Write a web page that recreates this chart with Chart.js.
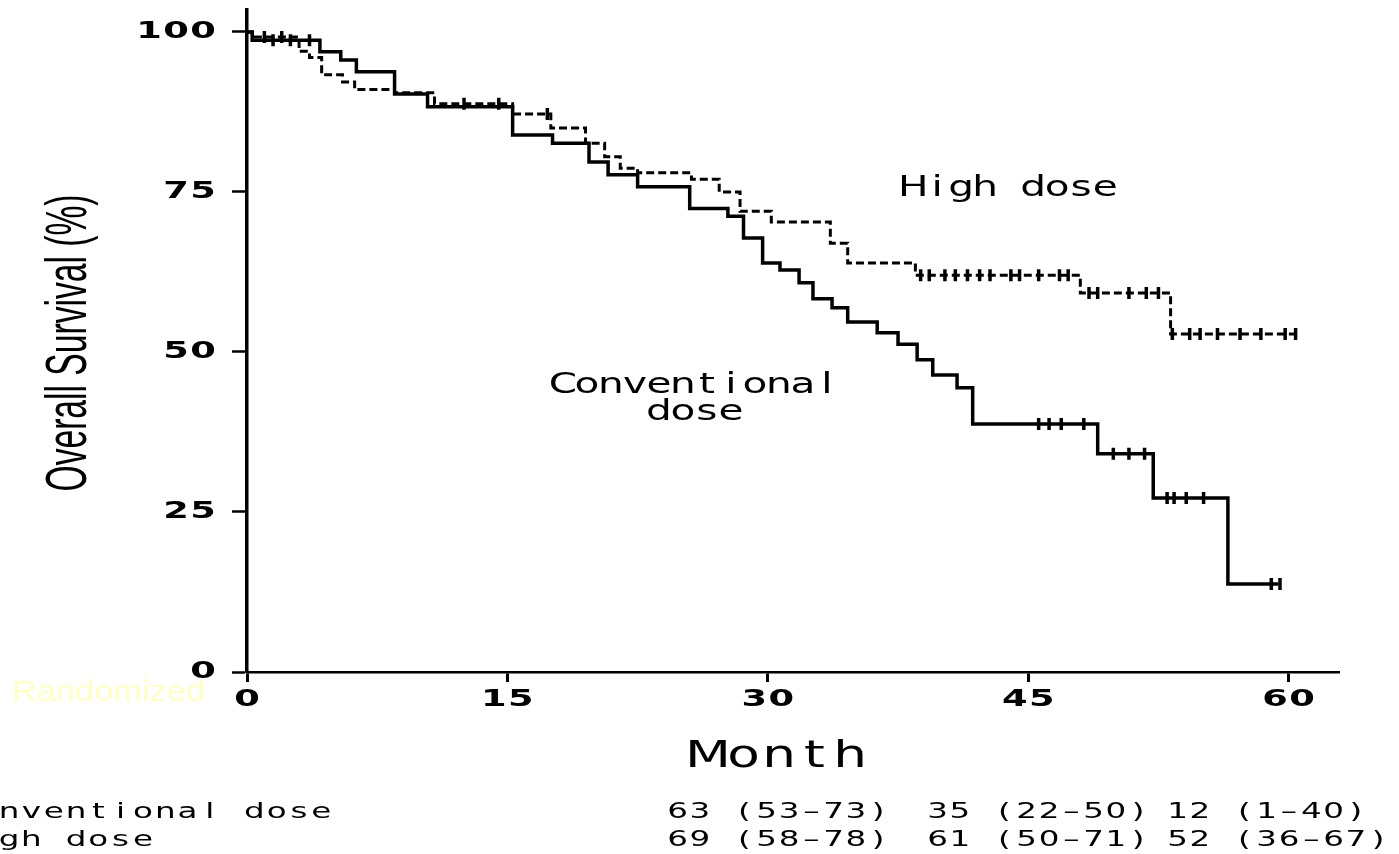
<!DOCTYPE html>
<html>
<head>
<meta charset="utf-8">
<script src="https://cdn.jsdelivr.net/npm/chart.js@4.4.1/dist/chart.umd.min.js"></script>
<style>
  html, body { margin: 0; padding: 0; background: #fff; }
  canvas { display: block; }
</style>
</head>
<body>
<canvas id="km" width="1399" height="854"></canvas>
<script>
// survival curves (month, overall survival %)
const convTime = [0, 0.3, 4.2, 5.4, 6.3, 8.5, 10.4, 15.3, 17.6, 19.7, 20.8, 22.5, 25.5, 27.7, 28.6, 29.7, 30.7, 31.8, 32.6, 33.7, 34.6, 36.3, 37.5, 38.6, 39.5, 40.9, 41.8, 49.0, 52.2, 56.5, 59.4];
const convSurv = [100, 98.7, 96.9, 95.6, 93.8, 90.3, 88.3, 83.9, 82.6, 79.7, 77.7, 75.8, 72.4, 71.2, 67.8, 63.9, 62.8, 60.8, 58.3, 56.9, 54.7, 53.0, 51.2, 48.8, 46.4, 44.4, 38.75, 34.1, 27.2, 13.75, 13.75];

const highTime = [0, 0.3, 3.0, 3.6, 4.3, 5.5, 6.2, 8.5, 10.8, 15.3, 17.5, 19.5, 20.6, 21.5, 22.5, 25.6, 27.2, 28.4, 30.2, 33.6, 34.6, 38.5, 48.0, 53.2, 60.5];
const highSurv = [100, 99.2, 97.0, 96.0, 93.3, 92.2, 91.0, 90.5, 88.8, 87.2, 85.0, 82.6, 80.5, 78.7, 78.0, 77.0, 75.0, 72.0, 70.3, 67.0, 63.9, 62.0, 59.2, 52.8, 52.8];

// censored patients (tick marks)
const convCensorTime = [1.5, 2.5, 3.6, 45.6, 46.2, 46.9, 48.2, 49.9, 50.8, 51.7, 53.0, 53.4, 54.1, 55.1, 59.0, 59.5];
const convCensorSurv = [98.7, 98.7, 98.7, 38.75, 38.75, 38.75, 38.75, 34.1, 34.1, 34.1, 27.2, 27.2, 27.2, 27.2, 13.75, 13.75];
const highCensorTime = [1.0, 2.0, 12.5, 14.5, 17.3, 38.8, 39.3, 40.2, 40.8, 41.5, 42.2, 42.8, 44.0, 44.5, 45.6, 46.8, 47.3, 48.5, 49.0, 50.8, 51.8, 52.5, 53.3, 54.3, 54.9, 55.9, 57.2, 58.4, 59.8, 60.4];
const highCensorSurv = [99.2, 99.2, 88.8, 88.8, 87.2, 62, 62, 62, 62, 62, 62, 62, 62, 62, 62, 62, 62, 59.2, 59.2, 59.2, 59.2, 59.2, 52.8, 52.8, 52.8, 52.8, 52.8, 52.8, 52.8, 52.8];

const xTicks = [0, 15, 30, 45, 60];
const yTicks = [0, 25, 50, 75, 100];

const groupNames = ["Conventional dose", "High dose"];
const groupRates = [
  ["63 (53–73)", "35 (22–50)", "12 (1–40)"],
  ["69 (58–78)", "61 (50–71)", "52 (36–67)"],
];

const toPoints = (xs, ys) => xs.map((x, i) => ({ x: x, y: ys[i] }));

// draw text as evenly spaced, stretched glyphs (mimics the old plot font)
const spaced = (ctx, text, x, y, o) => {
  const n = text.length;
  const gw = o.gw || o.adv * 0.8;
  let x0;
  if (o.align === "center") x0 = x - (n - 1) * o.adv / 2;
  else if (o.align === "right") x0 = x - (n - 1) * o.adv - gw / 2;
  else x0 = x + gw / 2;
  ctx.save();
  ctx.fillStyle = o.color || "#000";
  ctx.font = (o.bold ? "bold " : "") + o.size + "px " + (o.family || "'DejaVu Sans'");
  ctx.textAlign = "center";
  ctx.textBaseline = "middle";
  for (let i = 0; i < n; i++) {
    const ch = text[i];
    if (ch === " ") continue;
    ctx.save();
    ctx.translate(x0 + i * o.adv, y);
    ctx.scale(o.sx || 1, 1);
    ctx.fillText(ch, 0, 0);
    ctx.restore();
  }
  ctx.restore();
};

const textPlugin = {
  id: "kmText",
  beforeDraw(chart) {
    const ctx = chart.ctx;
    ctx.save();
    ctx.fillStyle = "#fff";
    ctx.fillRect(0, 0, chart.width, chart.height);
    ctx.restore();
  },
  afterDraw(chart) {
    const ctx = chart.ctx;
    const xs = chart.scales.x;
    const ys = chart.scales.y;

    // tick labels
    const tickFont = { size: 23, adv: 27, gw: 20, sx: 1.6, bold: true };
    yTicks.forEach((v) => {
      spaced(ctx, String(v), 213, ys.getPixelForValue(v), Object.assign({ align: "right" }, tickFont));
    });
    xTicks.forEach((v) => {
      spaced(ctx, String(v), xs.getPixelForValue(v), 700, Object.assign({ align: "center" }, tickFont));
    });

    // curve labels
    const lab = { size: 28, adv: 24, gw: 21, sx: 1.45, align: "center" };
    spaced(ctx, "High dose", xs.getPixelForValue(43.9), ys.getPixelForValue(75.5), lab);
    spaced(ctx, "Conventional", xs.getPixelForValue(25.8), ys.getPixelForValue(44.8), lab);
    spaced(ctx, "dose", xs.getPixelForValue(25.8), ys.getPixelForValue(40.5), lab);

    // axis titles
    spaced(ctx, "Month", 779, 757, { size: 38, adv: 35.5, gw: 34, sx: 1.4, align: "center" });

    ctx.save();
    ctx.translate(70, 343);
    ctx.rotate(-Math.PI / 2);
    ctx.font = "58px 'Liberation Sans'";
    const w = ctx.measureText("Overall Survival (%)").width;
    ctx.scale(297 / w, 1);
    ctx.textAlign = "center";
    ctx.textBaseline = "middle";
    ctx.fillStyle = "#000";
    ctx.fillText("Overall Survival (%)", 0, 0);
    ctx.restore();

    // faint label
    ctx.save();
    ctx.font = "30px 'Liberation Sans'";
    const rw = ctx.measureText("Randomized").width;
    ctx.translate(12, 693);
    ctx.scale(193 / rw, 1);
    ctx.textAlign = "left";
    ctx.textBaseline = "middle";
    ctx.fillStyle = "#ffffc8";
    ctx.fillText("Randomized", 0, 0);
    ctx.restore();

    // survival rate table
    const tab = { size: 21, adv: 22.3, gw: 19, sx: 1.55, align: "left" };
    const rowY = [813, 841];
    const colX = [668, 928, 1168];
    groupNames.forEach((name, r) => {
      spaced(ctx, name, -45, rowY[r], tab);
      groupRates[r].forEach((txt, c) => {
        spaced(ctx, txt, colX[c], rowY[r], tab);
      });
    });
  },
};

new Chart(document.getElementById("km"), {
  type: "line",
  data: {
    datasets: [
      {
        label: "Conventional dose",
        data: toPoints(convTime, convSurv),
        borderColor: "#000",
        borderWidth: 3.5,
        stepped: true,
        pointRadius: 0,
        fill: false,
      },
      {
        label: "High dose",
        data: toPoints(highTime, highSurv),
        borderColor: "#000",
        borderWidth: 3,
        borderDash: [8, 4],
        stepped: true,
        pointRadius: 0,
        fill: false,
      },
      {
        type: "scatter",
        label: "Conventional censored",
        data: toPoints(convCensorTime, convCensorSurv),
        pointStyle: "line",
        rotation: 90,
        pointRadius: 6,
        borderColor: "#000",
        borderWidth: 3.5,
      },
      {
        type: "scatter",
        label: "High censored",
        data: toPoints(highCensorTime, highCensorSurv),
        pointStyle: "line",
        rotation: 90,
        pointRadius: 6,
        borderColor: "#000",
        borderWidth: 3.5,
      },
    ],
  },
  options: {
    responsive: false,
    animation: false,
    layout: { padding: { top: 10, right: 60, left: 0, bottom: 0 } },
    plugins: {
      legend: { display: false },
      tooltip: { enabled: false },
    },
    scales: {
      x: {
        type: "linear",
        min: 0,
        max: 62.9,
        afterBuildTicks: (scale) => {
          scale.ticks = xTicks.map((v) => ({ value: v }));
        },
        afterFit: (scale) => {
          scale.height = 182;
        },
        ticks: { color: "rgba(0,0,0,0)" },
        grid: {
          drawOnChartArea: false,
          drawTicks: true,
          tickLength: 10,
          tickColor: "#000",
          tickWidth: 3,
        },
        border: { display: true, color: "#000", width: 2.5 },
      },
      y: {
        type: "linear",
        min: 0,
        max: 103.4,
        afterBuildTicks: (scale) => {
          scale.ticks = yTicks.map((v) => ({ value: v }));
        },
        afterFit: (scale) => {
          scale.width = 247;
        },
        ticks: { color: "rgba(0,0,0,0)" },
        grid: {
          drawOnChartArea: false,
          drawTicks: true,
          tickLength: 15,
          tickColor: "#000",
          tickWidth: 2.5,
        },
        border: { display: true, color: "#000", width: 3.5 },
      },
    },
  },
  plugins: [textPlugin],
});
</script>
</body>
</html>
